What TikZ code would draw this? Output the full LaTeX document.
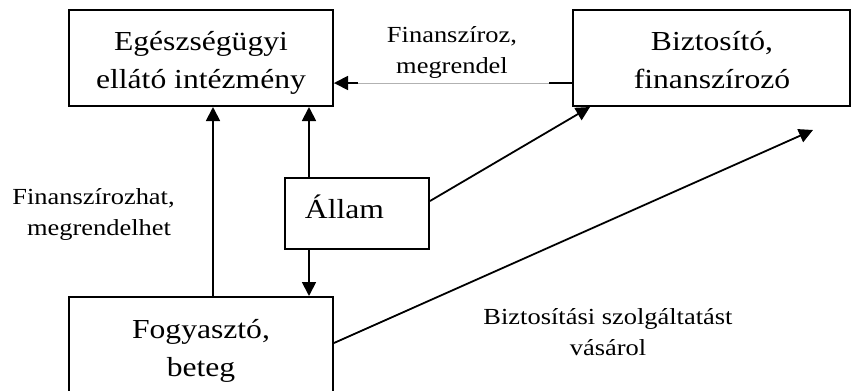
\documentclass[tikz,border=0pt]{standalone}
\usepackage{fontspec}
\setmainfont[FakeStretch=1.15]{Liberation Serif}
\usetikzlibrary{arrows.meta,calc}
\begin{document}
\begin{tikzpicture}[x=1pt,y=-1pt,
  box/.style={draw, line width=2pt, inner sep=0pt},
  big/.style={font=\fontsize{27.5}{38}\selectfont, align=center},
  small/.style={font=\fontsize{23}{31}\selectfont, align=center},
  arr/.style={line width=1.8pt, -{Triangle[length=14pt,width=14pt]}},
  stub/.style={line width=1.8pt},
]
\useasboundingbox (0,0) rectangle (852,391);
% boxes
\node[box, minimum width=264pt, minimum height=96pt] (ellato) at (201,58) {};
\node[box, minimum width=277pt, minimum height=96pt] (bizt) at (711.5,58) {};
\node[box, minimum width=144pt, minimum height=71pt] (allam) at (357,213.5) {};
\node[box, minimum width=264pt, minimum height=140pt] (fogy) at (201,367) {};
% box texts
\node[big, anchor=base] (ellatotxt) at (201,88) {Egészségügyi\\ellátó intézmény};
\node[big, anchor=base] (bizttxt) at (712,88) {Biztosító,\\finanszírozó};
\node[big, anchor=base] (allamtxt) at (344.5,218) {Állam};
\node[big, anchor=base] (fogytxt) at (201,376) {Fogyasztó,\\beteg};
% labels
\node[small, anchor=base] (lfin) at (452,73) {Finanszíroz,\\megrendel};
\node[small, anchor=base] (lfinh) at (99,235) {Finanszírozhat,\kern11pt\\megrendelhet};
\node[small, anchor=base] (lvas) at (608,355) {Biztosítási szolgáltatást\\vásárol};
% connectors
\draw[arr] (fogy.north -| 213,0) -- (ellato.south -| 213,0);
\draw[arr] (allam.north -| 309,0) -- (ellato.south -| 309,0);
\draw[arr] (allam.south -| 309,0) -- (fogy.north -| 309,0);
\draw[gray!60, line width=0.8pt] (bizt.west |- 0,83) -- (ellato.east |- 0,83);
\draw[stub] (bizt.west |- 0,83) -- ++(-23,0);
\draw[arr] ($(ellato.east |- 0,83)+(24,0)$) -- (ellato.east |- 0,83);
\draw[arr] (allam.east |- 0,201) -- (bizt.south -| 590,0);
\coordinate (free) at (813,130);
\draw[arr] (fogy.east |- 0,343) -- (free);
\end{tikzpicture}
\end{document}
